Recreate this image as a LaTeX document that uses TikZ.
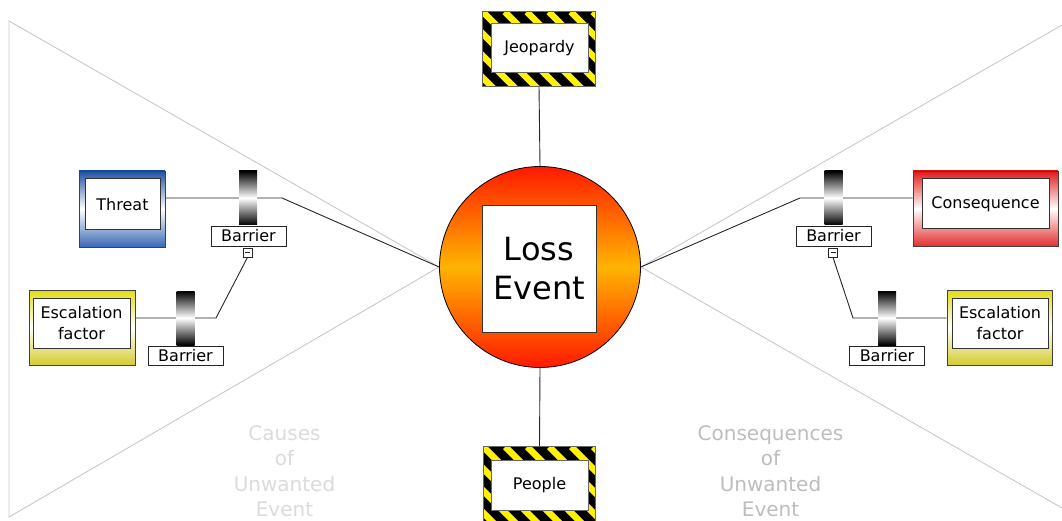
\documentclass[tikz,border=0pt]{standalone}
\usepackage{fontspec}
\setmainfont{DejaVu Sans}
\pgfdeclarelayer{background}
\pgfsetlayers{background,main}
\definecolor{threatblue}{HTML}{1F52A3}
\definecolor{threatblue2}{HTML}{3A68B4}
\definecolor{consred}{HTML}{E01A1A}
\definecolor{consred2}{HTML}{E23030}
\definecolor{escyel}{HTML}{E4DC14}
\definecolor{escyel2}{HTML}{D4CC30}
\definecolor{hazyel}{HTML}{FFF200}
\definecolor{lossred}{HTML}{FF1A00}
\definecolor{lossorange}{HTML}{FFB400}
\definecolor{bowgray}{HTML}{C8C8C8}
\begin{document}
\begin{tikzpicture}[x=1pt,y=-1pt,
  conn/.style={draw=black!85, line width=0.9pt},
  bow/.style={draw=bowgray, line width=0.9pt},
  framebox/.style={draw=black!75, line width=0.8pt, inner sep=0pt},
  innerbox/.style={draw=black!80, fill=white, line width=1pt, inner sep=0pt,
    align=center, font=\fontsize{16}{21}\selectfont},
  barbar/.style={top color=black, bottom color=black, middle color=white,
    minimum width=18pt, minimum height=54pt, inner sep=0pt},
  barlabel/.style={draw=black!85, fill=white, line width=0.8pt, inner sep=0pt,
    minimum width=75pt, minimum height=20pt, font=\fontsize{16}{19}\selectfont},
  collapse/.style={draw=black!85, fill=white, line width=0.7pt, inner sep=0pt,
    minimum size=9pt},
  hazard/.style={inner sep=0pt, minimum width=112pt, minimum height=74pt},
  sidetext/.style={align=center, font=\fontsize{20}{25.5}\selectfont}
]
\useasboundingbox (0,0) rectangle (1062,521);

% central loss event
\node[circle, draw=black, line width=0.8pt, minimum size=201pt, inner sep=0pt,
  top color=lossred, bottom color=lossred, middle color=lossorange] (loss) at (540,267) {};
\node[draw=black!80, fill=white, line width=1pt, minimum width=114pt, minimum height=126pt,
  inner sep=0pt, align=center, font=\fontsize{32}{39}\selectfont] (lossT) at (539,269) {Loss\\Event};

% hazard-striped frames
\node[hazard] (jeoF) at (539,49) {};
\node[hazard] (peoF) at (539.5,484) {};
\foreach \f in {jeoF,peoF}{
  \begin{scope}
    \clip (\f.south west) rectangle (\f.north east);
    \fill[black] (\f.south west) rectangle (\f.north east);
    \foreach \i in {-5,...,6}
      \draw[hazyel, line width=6.5pt] ([xshift=\i*22pt]\f.north west) -- ++(90,90);
  \end{scope}
  \draw[black!60, line width=0.8pt] (\f.south west) rectangle (\f.north east);
}
\node[innerbox, draw=black!60, minimum width=97pt, minimum height=49pt] (jeo) at (539.5,48.5) {Jeopardy};
\node[innerbox, draw=black!60, minimum width=97pt, minimum height=50pt] (peo) at (539.5,485) {People};

% threat and consequence boxes
\node[framebox, top color=threatblue, bottom color=threatblue2, middle color=white, minimum width=86pt, minimum height=76pt] (thrF) at (122,209) {};
\node[innerbox, minimum width=75pt, minimum height=51pt] (thr) at (122.5,204.5) {Threat};
\node[framebox, top color=consred, bottom color=consred2, middle color=white, minimum width=145pt, minimum height=75pt] (conF) at (985.5,208.5) {};
\node[innerbox, minimum width=127pt, minimum height=50pt] (con) at (985.5,204) {Consequence};

% escalation factor boxes
\node[framebox, top color=escyel, bottom color=escyel2, middle color=white, minimum width=106pt, minimum height=75pt] (escLF) at (82,327.5) {};
\node[innerbox, minimum width=97pt, minimum height=50pt] (escL) at (81.5,323) {Escalation\\factor};
\node[framebox, top color=escyel, bottom color=escyel2, middle color=white, minimum width=105pt, minimum height=75pt] (escRF) at (999.5,327.5) {};
\node[innerbox, minimum width=96pt, minimum height=50pt] (escR) at (1000,323) {Escalation\\factor};

% barriers
\node[barbar] (bar1) at (248,198) {};
\node[barlabel] (lab1) at (248.5,236) {Barrier};
\node[collapse] (col1) at (247.5,252.5) {};
\node[barbar] (bar2) at (185.5,318) {};
\node[barlabel, minimum height=19pt] (lab2) at (185.5,355.5) {Barrier};
\node[barbar] (bar3) at (833.5,198) {};
\node[barlabel] (lab3) at (833.5,236) {Barrier};
\node[collapse] (col3) at (833,252.5) {};
\node[barbar] (bar4) at (887,318) {};
\node[barlabel, minimum height=19pt] (lab4) at (887,355.5) {Barrier};
\foreach \c in {col1,col3}
  \draw[black!85, line width=0.7pt] ([xshift=-2.5pt]\c.center) -- ([xshift=2.5pt]\c.center);

% junction points of the barrier lines
\coordinate (k1) at (282,198);
\coordinate (k2) at (216,318);
\coordinate (k3) at (800,198);
\coordinate (k4) at (853,318);

% bow-tie outline
\coordinate (bl1) at (9,21);
\coordinate (bl2) at (9,517);
\coordinate (br1) at (1062,25);
\coordinate (br2) at (1062,508);

\begin{pgfonlayer}{background}
  \draw[bow] (bl1) -- (loss.west) -- (bl2) -- cycle;
  \draw[bow] (br1) -- (loss.east) -- (br2);
  \draw[conn] (jeoF.south) -- (loss.north);
  \draw[conn] (peoF.north) -- (loss.south);
  \draw[conn] (thrF.east |- bar1) -- (bar1) -- (k1) -- (loss.west);
  \draw[conn] (col1.south) -- (k2) -- (bar2) -- (escLF.east |- bar2);
  \draw[conn] (conF.west |- bar3) -- (bar3) -- (k3) -- (loss.east);
  \draw[conn] (col3.south) -- (k4) -- (bar4) -- (escRF.west |- bar4);
\end{pgfonlayer}

% side captions
\node[sidetext, text=black!14] (causes) at (284.5,471) {Causes\\of\\Unwanted\\Event};
\node[sidetext, text=black!26] (conseq) at (770.5,471) {Consequences\\of\\Unwanted\\Event};
\end{tikzpicture}
\end{document}
